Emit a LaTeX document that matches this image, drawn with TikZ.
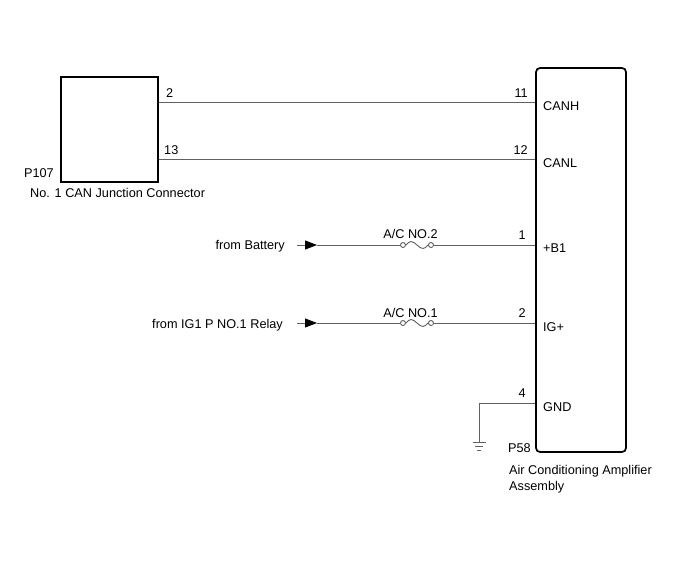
\documentclass[tikz,border=0pt]{standalone}
\usepackage{fontspec}
\setmainfont{Liberation Sans}
\usetikzlibrary{arrows.meta}
\begin{document}
\begin{tikzpicture}[x=1pt,y=-1pt]
        \tikzset{
          wire/.style={draw=black!62, line width=0.9pt},
          unitbox/.style={draw=black, line width=1.7pt, inner sep=0pt},
          txt/.style={inner sep=0pt, font=\fontsize{12.7}{15}\selectfont},
          pinl/.style={txt, anchor=base west},
          pinr/.style={txt, anchor=base east},
          feed/.style={wire, -{Triangle[length=12pt,width=9pt,color=black]}},
          fuseend/.style={circle, draw=black!62, line width=0.9pt, minimum size=5pt, inner sep=0pt},
        }
        \useasboundingbox (0,0) rectangle (688,560);
        \node [unitbox, minimum width=97pt, minimum height=105pt] (jc) at (109.5,129.5) {};
        \node [unitbox, rounded corners=4pt, minimum width=90pt, minimum height=384pt] (amp) at (581,260) {};
        \node [pinr] (jcid) at (54,177) {P107};
        \node [pinl] (jcname) at (30,197) {No. 1 CAN Junction Connector};
        \node [pinr] (ampid) at (531,452) {P58};
        \node [pinl] (ampname) at (509,474) {Air Conditioning Amplifier};
        \node [pinl] (ampname2) at (509,490) {Assembly};
        \coordinate (jc2) at (jc.east |- 0,102);
        \coordinate (jc13) at (jc.east |- 0,159);
        \coordinate (amp11) at (amp.west |- 0,102);
        \coordinate (amp12) at (amp.west |- 0,159);
        \coordinate (amp1) at (amp.west |- 0,245);
        \coordinate (amp2) at (amp.west |- 0,323);
        \coordinate (amp4) at (amp.west |- 0,403);
        \draw [wire] (jc2) -- (amp11);
        \draw [wire] (jc13) -- (amp12);
        \node [pinl] (pjc2) at (166,97) {2};
        \node [pinl] (pjc13) at (164,154) {13};
        \node [pinr] (p11) at (528,97) {11};
        \node [pinr] (p12) at (528,154) {12};
        \node [pinr] (p1) at (526,239) {1};
        \node [pinr] (p2) at (526,317) {2};
        \node [pinr] (p4) at (526,397) {4};
        \node [pinl] (canh) at (543,110) {CANH};
        \node [pinl] (canl) at (543,167) {CANL};
        \node [pinl] (b1) at (543,252) {+B1};
        \node [pinl] (ig) at (543,331) {IG+};
        \node [pinl] (gnd) at (543,411) {GND};
        \node [pinr] (bat) at (285,249) {from Battery};
        \coordinate (batstart) at (297,245);
        \coordinate (battip) at (317,245);
        \draw [feed] (batstart) -- (battip);
        \node [fuseend] (f2a) at (403,245) {};
        \node [fuseend] (f2b) at (431,245) {};
        \draw [wire] (battip) -- (f2a.west);
        \draw [wire] (f2a.east) sin (411,241.5) cos (417,245) sin (423,248.5) cos (f2b.west);
        \draw [wire] (f2b.east) -- (amp1);
        \node [txt, anchor=base] (fuse2) at (410.5,238) {A/C NO.2};
        \node [pinr] (relay) at (283,328) {from IG1 P NO.1 Relay};
        \coordinate (relstart) at (297,323);
        \coordinate (reltip) at (317,323);
        \draw [feed] (relstart) -- (reltip);
        \node [fuseend] (f1a) at (403,323) {};
        \node [fuseend] (f1b) at (431,323) {};
        \draw [wire] (reltip) -- (f1a.west);
        \draw [wire] (f1a.east) sin (411,319.5) cos (417,323) sin (423,326.5) cos (f1b.west);
        \draw [wire] (f1b.east) -- (amp2);
        \node [txt, anchor=base] (fuse1) at (410.5,317) {A/C NO.1};
        \coordinate (gndtop) at (479,442);
        \draw [wire] (amp4) -| (gndtop);
        \draw [wire] (472.5,442) -- (485.5,442);
        \draw [wire] (475,446) -- (483,446);
        \draw [wire] (477,450) -- (481,450);
\end{tikzpicture}
\end{document}
